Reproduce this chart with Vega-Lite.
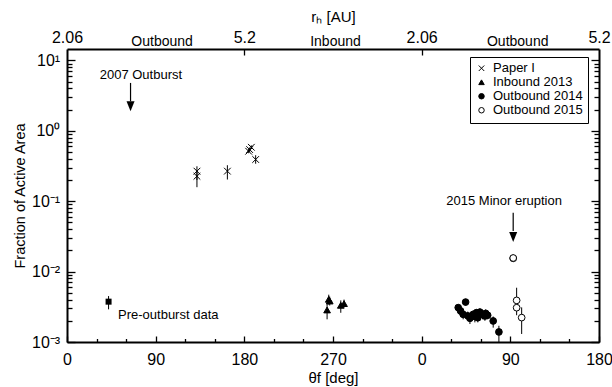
{
  "$schema": "https://vega.github.io/schema/vega-lite/v6.json",
  "width": 532,
  "height": 293,
  "autosize": "none",
  "padding": {"left": 67, "top": 49, "right": 13, "bottom": 45},
  "background": "white",
  "config": {
    "view": {"stroke": null},
    "font": "Liberation Sans",
    "axis": {
      "domainColor": "black", "domainWidth": 2, "tickColor": "black", "tickWidth": 1.3,
      "labelColor": "black", "titleColor": "black", "labelFont": "Liberation Sans",
      "titleFont": "Liberation Sans", "titleFontWeight": "normal", "grid": false
    },
    "legend": {"labelFont": "Liberation Sans"}
  },
  "datasets": {
    "pts": [
      {"series": "Paper I", "th": 131.9, "f": 0.267, "lo": 0.2, "hi": 0.313},
      {"series": "Paper I", "th": 131.9, "f": 0.226, "lo": 0.158, "hi": 0.27},
      {"series": "Paper I", "th": 162.8, "f": 0.267, "lo": 0.203, "hi": 0.324},
      {"series": "Paper I", "th": 185.4, "f": 0.541, "lo": 0.5, "hi": 0.58},
      {"series": "Paper I", "th": 187.1, "f": 0.583, "lo": 0.55, "hi": 0.62},
      {"series": "Paper I", "th": 184.4, "f": 0.512, "lo": 0.48, "hi": 0.55},
      {"series": "Paper I", "th": 191.5, "f": 0.391, "lo": 0.34, "hi": 0.45},
      {"series": "Inbound 2013", "th": 265.7, "f": 0.00404, "lo": 0.0034, "hi": 0.0047},
      {"series": "Inbound 2013", "th": 266.7, "f": 0.00382, "lo": 0.0033, "hi": 0.0044},
      {"series": "Inbound 2013", "th": 264.0, "f": 0.00285, "lo": 0.0021, "hi": 0.0036},
      {"series": "Inbound 2013", "th": 277.9, "f": 0.00332, "lo": 0.0026, "hi": 0.0039},
      {"series": "Inbound 2013", "th": 281.2, "f": 0.00351, "lo": 0.0031, "hi": 0.004},
      {"series": "Outbound 2014", "th": 397.1, "f": 0.00308, "lo": 0.0027, "hi": 0.0034},
      {"series": "Outbound 2014", "th": 399.5, "f": 0.00276, "lo": 0.0024, "hi": 0.0031},
      {"series": "Outbound 2014", "th": 404.6, "f": 0.00369, "lo": 0.0033, "hi": 0.0041},
      {"series": "Outbound 2014", "th": 402.1, "f": 0.00247, "lo": 0.0021, "hi": 0.0028},
      {"series": "Outbound 2014", "th": 406.8, "f": 0.00235, "lo": 0.002, "hi": 0.0027},
      {"series": "Outbound 2014", "th": 409.0, "f": 0.00217, "lo": 0.0018, "hi": 0.0025},
      {"series": "Outbound 2014", "th": 412.3, "f": 0.00247, "lo": 0.0021, "hi": 0.0028},
      {"series": "Outbound 2014", "th": 414.0, "f": 0.0023, "lo": 0.0019, "hi": 0.0026},
      {"series": "Outbound 2014", "th": 415.7, "f": 0.00261, "lo": 0.0022, "hi": 0.0029},
      {"series": "Outbound 2014", "th": 417.0, "f": 0.00221, "lo": 0.0019, "hi": 0.0025},
      {"series": "Outbound 2014", "th": 418.0, "f": 0.00245, "lo": 0.0021, "hi": 0.0028},
      {"series": "Outbound 2014", "th": 419.1, "f": 0.00266, "lo": 0.0023, "hi": 0.003},
      {"series": "Outbound 2014", "th": 421.8, "f": 0.00247, "lo": 0.0021, "hi": 0.0028},
      {"series": "Outbound 2014", "th": 424.2, "f": 0.00234, "lo": 0.002, "hi": 0.0027},
      {"series": "Outbound 2014", "th": 425.0, "f": 0.00255, "lo": 0.0022, "hi": 0.0029},
      {"series": "Outbound 2014", "th": 427.0, "f": 0.0024, "lo": 0.0021, "hi": 0.0027},
      {"series": "Outbound 2014", "th": 432.6, "f": 0.00199, "lo": 0.0016, "hi": 0.0023},
      {"series": "Outbound 2014", "th": 438.4, "f": 0.00139, "lo": 0.001, "hi": 0.0017},
      {"series": "Outbound 2015", "th": 452.9, "f": 0.0154, "lo": 0.0144, "hi": 0.0166},
      {"series": "Outbound 2015", "th": 452.9, "f": 0.0156, "lo": 0.0146, "hi": 0.0166},
      {"series": "Outbound 2015", "th": 456.4, "f": 0.0039, "lo": 0.0028, "hi": 0.0059},
      {"series": "Outbound 2015", "th": 456.4, "f": 0.00307, "lo": 0.0024, "hi": 0.0038},
      {"series": "Outbound 2015", "th": 461.5, "f": 0.00222, "lo": 0.0013, "hi": 0.0031}
    ],
    "pre": [
      {"th": 42.2, "f": 0.00374, "lo": 0.00291, "hi": 0.00449}
    ],
    "notes": [
      {"label": "2007 Outburst", "th": 75.0, "f": 6.27},
      {"label": "2015 Minor eruption", "th": 443.7, "f": 0.1}
    ],
    "notesLeft": [
      {"label": "Pre-outburst data", "th": 51.8, "f": 0.00242}
    ],
    "arrows": [
      {"th": 64.5, "top": 4.78, "bot": 2.62, "head": 2.23},
      {"th": 452.9, "top": 0.0685, "bot": 0.0376, "head": 0.0311}
    ]
  },
  "layer": [
    {
      "data": {"name": "pts"},
      "mark": {"type": "rule", "color": "black", "strokeWidth": 1},
      "encoding": {
        "x": {
          "field": "th", "type": "quantitative",
          "scale": {"domain": [0, 540], "nice": false, "zero": false},
          "axis": {
            "orient": "bottom",
            "values": [0, 30, 60, 90, 120, 150, 180, 210, 240, 270, 300, 330, 360, 390, 420, 450, 480, 510, 540],
            "labelExpr": "datum.value % 90 == 0 ? '' + (datum.value % 360) : ''",
            "tickSize": {"condition": {"test": "datum.value % 90 == 0", "value": -6}, "value": -3.5},
            "labelPadding": 15.3,
            "labelFontSize": 16,
            "labelFlush": false,
            "labelOverlap": false,
            "title": "θf [deg]",
            "titleFontSize": 15,
            "titlePadding": 1
          }
        },
        "y": {
          "field": "lo", "type": "quantitative",
          "scale": {"type": "log", "domain": [0.001, 14.5], "nice": false},
          "axis": {
            "orient": "left",
            "values": [0.001, 0.002, 0.003, 0.004, 0.005, 0.006, 0.007, 0.008, 0.009, 0.01, 0.02, 0.03, 0.04, 0.05, 0.06, 0.07, 0.08, 0.09, 0.1, 0.2, 0.3, 0.4, 0.5, 0.6, 0.7, 0.8, 0.9, 1, 2, 3, 4, 5, 6, 7, 8, 9, 10],
            "labelExpr": "datum.value == 0.001 ? '10⁻³' : datum.value == 0.01 ? '10⁻²' : datum.value == 0.1 ? '10⁻¹' : datum.value == 1 ? '10⁰' : datum.value == 10 ? '10¹' : ''",
            "tickSize": {"condition": {"test": "indexof([0.001, 0.01, 0.1, 1, 10], datum.value) >= 0", "value": -8}, "value": -5},
            "labelPadding": 15.3,
            "labelFontSize": 16,
            "labelOverlap": false,
            "labelFlush": false,
            "title": "Fraction of Active Area",
            "titleFontSize": 14.5,
            "titlePadding": 4
          }
        },
        "y2": {"field": "hi"}
      }
    },
    {
      "data": {"name": "pts"},
      "mark": {"type": "point", "stroke": "black", "strokeWidth": 1, "opacity": 1, "size": 45},
      "encoding": {
        "x": {
          "field": "th", "type": "quantitative",
          "scale": {"domain": [0, 540], "nice": false, "zero": false},
          "axis": {
            "orient": "top",
            "values": [0, 96, 180, 272, 360, 457, 540],
            "labelExpr": "datum.value == 0 || datum.value == 360 ? '2.06' : datum.value == 180 || datum.value == 540 ? '5.2' : datum.value == 272 ? 'Inbound' : 'Outbound'",
            "tickSize": -6,
            "tickOpacity": {"condition": {"test": "datum.value == 180 || datum.value == 360", "value": 1}, "value": 0},
            "labelFontSize": {"condition": {"test": "datum.value % 180 == 0", "value": 16}, "value": 14},
            "labelPadding": {"condition": {"test": "datum.value % 180 == 0", "value": 9.2}, "value": 6.4},
            "labelFlush": false,
            "labelOverlap": false,
            "title": "rₕ [AU]",
            "titleFontSize": 15,
            "titlePadding": 5
          }
        },
        "y": {
          "field": "f", "type": "quantitative",
          "scale": {"type": "log", "domain": [0.001, 14.5], "nice": false},
          "axis": {
            "orient": "right",
            "values": [0.001, 0.002, 0.003, 0.004, 0.005, 0.006, 0.007, 0.008, 0.009, 0.01, 0.02, 0.03, 0.04, 0.05, 0.06, 0.07, 0.08, 0.09, 0.1, 0.2, 0.3, 0.4, 0.5, 0.6, 0.7, 0.8, 0.9, 1, 2, 3, 4, 5, 6, 7, 8, 9, 10],
            "labels": false,
            "tickSize": {"condition": {"test": "indexof([0.001, 0.01, 0.1, 1, 10], datum.value) >= 0", "value": -8}, "value": -5},
            "title": null
          }
        },
        "shape": {
          "field": "series", "type": "nominal",
          "scale": {
            "domain": ["Paper I", "Inbound 2013", "Outbound 2014", "Outbound 2015"],
            "range": ["M-1,-1L1,1M-1,1L1,-1", "triangle-up", "circle", "circle"]
          },
          "legend": {
            "title": null, "orient": "none", "legendX": 403, "legendY": 8,
            "strokeColor": "black", "padding": 5, "labelFontSize": 13, "labelColor": "black",
            "symbolStrokeColor": "black", "symbolStrokeWidth": 1, "symbolSize": 30,
            "rowPadding": 0, "clipHeight": 12.5, "labelOffset": 5
          }
        },
        "fill": {
          "field": "series", "type": "nominal",
          "scale": {
            "domain": ["Paper I", "Inbound 2013", "Outbound 2014", "Outbound 2015"],
            "range": ["transparent", "black", "black", "white"]
          },
          "legend": {"title": null}
        },
        "stroke": {
          "field": "series", "type": "nominal",
          "scale": {
            "domain": ["Paper I", "Inbound 2013", "Outbound 2014", "Outbound 2015"],
            "range": ["black", "black", "black", "black"]
          },
          "legend": {"title": null}
        }
      }
    },
    {
      "data": {"name": "pre"},
      "mark": {"type": "rule", "color": "black", "strokeWidth": 1},
      "encoding": {
        "x": {"field": "th", "type": "quantitative", "scale": {"domain": [0, 540], "nice": false, "zero": false}, "axis": null},
        "y": {"field": "lo", "type": "quantitative", "scale": {"type": "log", "domain": [0.001, 14.5], "nice": false}, "axis": null},
        "y2": {"field": "hi"}
      }
    },
    {
      "data": {"name": "pre"},
      "mark": {"type": "point", "shape": "square", "filled": true, "color": "black", "opacity": 1, "size": 36},
      "encoding": {
        "x": {"field": "th", "type": "quantitative", "scale": {"domain": [0, 540], "nice": false, "zero": false}, "axis": null},
        "y": {"field": "f", "type": "quantitative", "scale": {"type": "log", "domain": [0.001, 14.5], "nice": false}, "axis": null}
      }
    },
    {
      "mark": {"type": "rule", "color": "black", "strokeWidth": 1, "strokeDash": [1, 2.5]},
      "encoding": {
        "y": {"datum": 1, "type": "quantitative", "scale": {"type": "log", "domain": [0.001, 14.5], "nice": false}, "axis": null}
      }
    },
    {
      "data": {"name": "notes"},
      "mark": {"type": "text", "align": "center", "baseline": "middle", "fontSize": 13, "color": "black", "font": "Liberation Sans"},
      "encoding": {
        "x": {"field": "th", "type": "quantitative", "scale": {"domain": [0, 540], "nice": false, "zero": false}, "axis": null},
        "y": {"field": "f", "type": "quantitative", "scale": {"type": "log", "domain": [0.001, 14.5], "nice": false}, "axis": null},
        "text": {"field": "label"}
      }
    },
    {
      "data": {"name": "notesLeft"},
      "mark": {"type": "text", "align": "left", "baseline": "middle", "fontSize": 13, "color": "black", "font": "Liberation Sans"},
      "encoding": {
        "x": {"field": "th", "type": "quantitative", "scale": {"domain": [0, 540], "nice": false, "zero": false}, "axis": null},
        "y": {"field": "f", "type": "quantitative", "scale": {"type": "log", "domain": [0.001, 14.5], "nice": false}, "axis": null},
        "text": {"field": "label"}
      }
    },
    {
      "data": {"name": "arrows"},
      "mark": {"type": "rule", "color": "black", "strokeWidth": 1.2},
      "encoding": {
        "x": {"field": "th", "type": "quantitative", "scale": {"domain": [0, 540], "nice": false, "zero": false}, "axis": null},
        "y": {"field": "top", "type": "quantitative", "scale": {"type": "log", "domain": [0.001, 14.5], "nice": false}, "axis": null},
        "y2": {"field": "bot"}
      }
    },
    {
      "data": {"name": "arrows"},
      "mark": {"type": "point", "shape": "M-0.8,-1L0.8,-1L0,1Z", "filled": true, "color": "black", "opacity": 1, "size": 100},
      "encoding": {
        "x": {"field": "th", "type": "quantitative", "scale": {"domain": [0, 540], "nice": false, "zero": false}, "axis": null},
        "y": {"field": "head", "type": "quantitative", "scale": {"type": "log", "domain": [0.001, 14.5], "nice": false}, "axis": null}
      }
    }
  ],
  "resolve": {"axis": {"x": "independent", "y": "independent"}}
}
